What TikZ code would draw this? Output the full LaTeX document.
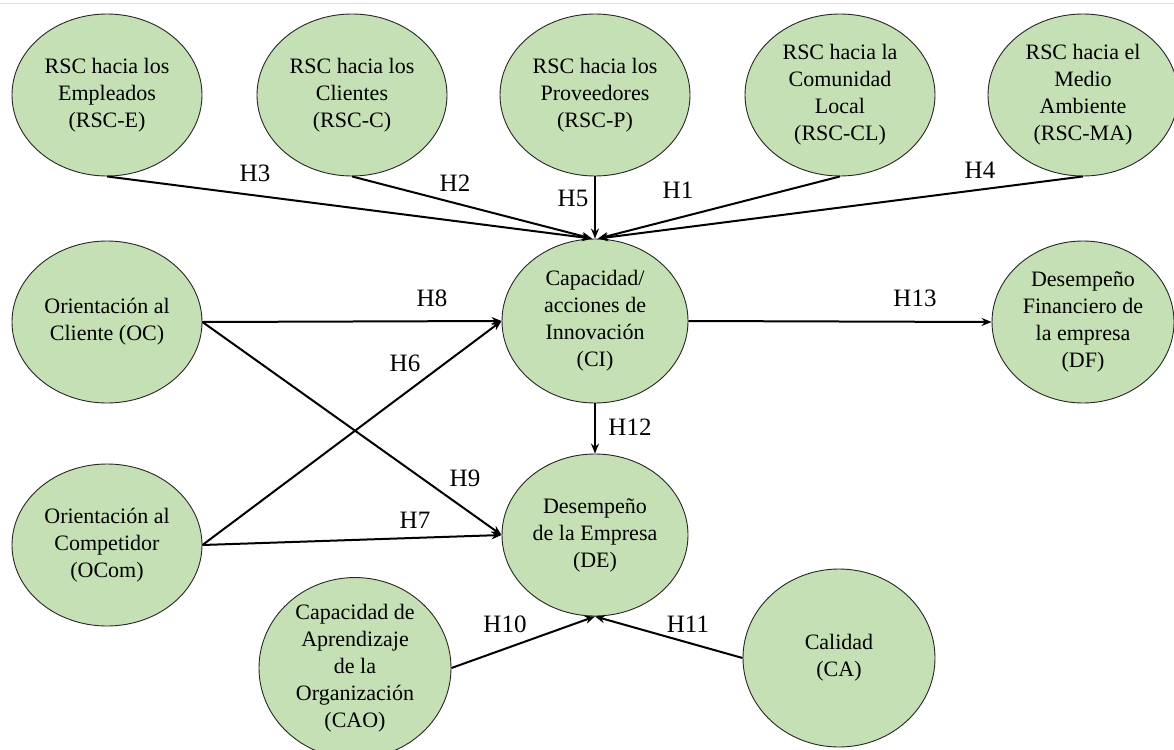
\documentclass[tikz,border=0pt]{standalone}
\usepackage{fontspec}
\setmainfont{Liberation Serif}
\usepackage{xcolor}
\usepackage{tikz}
\usetikzlibrary{shapes.geometric,arrows.meta,calc}
\definecolor{latent}{HTML}{C5E0B4}

\begin{document}
\begin{tikzpicture}[
  x=1pt, y=-1pt,
  var/.style={ellipse, draw=black!85, line width=0.9pt, fill=latent,
              minimum width=190pt, minimum height=162pt, inner sep=0pt,
              align=center, font=\fontsize{22}{27}\selectfont},
  hyp/.style={font=\fontsize{25}{28}\selectfont, inner sep=0pt},
  ar/.style={-{Stealth[length=10pt,width=8pt]}, line width=2pt}
]
  \useasboundingbox (0,0) rectangle (1174,749);
  \draw[black!12, line width=1pt] (0,4) -- (1174,4);

  % dimensiones de RSC
  \node[var] (rsce)  at (107,95)  {RSC hacia los\\Empleados\\(RSC-E)};
  \node[var] (rscc)  at (352,95)  {RSC hacia los\\Clientes\\(RSC-C)};
  \node[var] (rscp)  at (595,95)  {RSC hacia los\\Proveedores\\(RSC-P)};
  \node[var] (rsccl) at (840,95)  {RSC hacia la\\Comunidad\\Local\\(RSC-CL)};
  \node[var] (rscma) at (1083,95) {RSC hacia el\\Medio\\Ambiente\\(RSC-MA)};

  \node[var] (oc)   at (107,322)  {Orientación al\\Cliente (OC)};
  \node[var, minimum width=186pt, minimum height=164pt] (ci) at (595,321)
        {Capacidad/\\acciones de\\Innovación\\(CI)};
  \node[var, minimum width=182pt] (df) at (1083,322)
        {Desempeño\\Financiero de\\la empresa\\(DF)};
  \node[var] (ocom) at (107,545)  {Orientación al\\Competidor\\(OCom)};
  \node[var, minimum width=186pt] (de) at (595,535)
        {Desempeño\\de la Empresa\\(DE)};
  \node[var, minimum width=192pt] (cao) at (355,668)
        {Capacidad de\\Aprendizaje\\de la\\Organización\\(CAO)};
  \node[var, minimum width=192pt, minimum height=178pt] (ca) at (839,658)
        {Calidad\\(CA)};

  % hipotesis
  \draw[ar] (rsce.south)  -- ($(ci.north)+(-3,0)$);
  \draw[ar] (rscc.south)  -- ($(ci.north)+(-3,0)$);
  \draw[ar] (rscp.south)  -- (ci.north);
  \draw[ar] (rsccl.south) -- ($(ci.north)+(3,0)$);
  \draw[ar] (rscma.south) -- ($(ci.north)+(3,0)$);
  \draw[ar] (oc.east)   -- (ci.west);
  \draw[ar] (ocom.east) -- (ci.west);
  \draw[ar] (oc.east)   -- (de.west);
  \draw[ar] (ocom.east) -- (de.west);
  \draw[ar] (ci.east)   -- (df.west);
  \draw[ar] (ci.south)  -- (de.north);
  \draw[ar] (cao.east)  -- (de.south);
  \draw[ar] (ca.west)   -- (de.south);

  \node[hyp] (h3)  at (255,173) {H3};
  \node[hyp] (h2)  at (455,183) {H2};
  \node[hyp] (h5)  at (573,198) {H5};
  \node[hyp] (h1)  at (678,190) {H1};
  \node[hyp] (h4)  at (980,170) {H4};
  \node[hyp] (h8)  at (432,298) {H8};
  \node[hyp] (h6)  at (405,363) {H6};
  \node[hyp] (h13) at (915,298) {H13};
  \node[hyp] (h12) at (630,427) {H12};
  \node[hyp] (h9)  at (465,478) {H9};
  \node[hyp] (h7)  at (415,520) {H7};
  \node[hyp] (h10) at (505,624) {H10};
  \node[hyp] (h11) at (688,624) {H11};
\end{tikzpicture}
\end{document}
